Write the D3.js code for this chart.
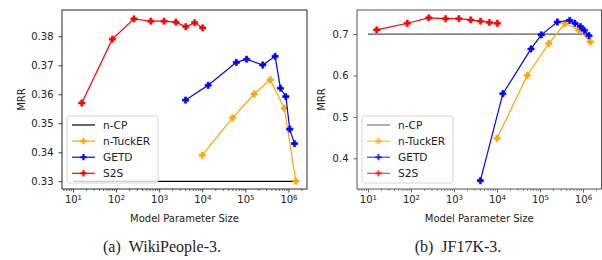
<!DOCTYPE html>
<html>
<head>
<meta charset="utf-8">
<script src="https://cdn.jsdelivr.net/npm/d3@7"></script>
<style>
body { margin: 0; background: #fff; }
svg text { font-family: "DejaVu Sans", sans-serif; }
</style>
</head>
<body>
<div id="chart"></div>
<script>
// model parameter sizes (x), shared by both datasets
var s2sSize = [16, 82, 260, 640, 1300, 2450, 4150, 6650, 10200];
var getdSize = [4100, 13700, 61700, 107000, 253000, 490000, 650000, 870000, 1070000, 1380000];
var tuckerSize = [10000, 50500, 160000, 380000, 800000, 1480000];
var cpSize = [10, 1480000];

// WikiPeople-3 MRR
var wikiS2S = [0.357, 0.379, 0.386, 0.3852, 0.3852, 0.3849, 0.3833, 0.3847, 0.3829];
var wikiGETD = [0.358, 0.3631, 0.371, 0.3721, 0.3701, 0.3731, 0.3621, 0.3592, 0.348, 0.343];
var wikiTucker = [0.339, 0.3519, 0.3601, 0.365, 0.3552, 0.3301];
var wikiCP = 0.33;
var wikiTicks = [0.33, 0.34, 0.35, 0.36, 0.37, 0.38];

// JF17K-3 MRR
var jfS2S = [0.710, 0.726, 0.739, 0.737, 0.737, 0.734, 0.731, 0.728, 0.726];
var jfGETD = [0.346, 0.556, 0.664, 0.698, 0.729, 0.733, 0.726, 0.718, 0.709, 0.696];
var jfTucker = [0.448, 0.600, 0.677, 0.726, 0.710, 0.681];
var jfCP = 0.70;
var jfTicks = [0.4, 0.5, 0.6, 0.7];

var xMajor = [10, 100, 1000, 10000, 100000, 1000000];
var legendNames = ["n-CP", "n-TuckER", "GETD", "S2S"];

var svg = d3.select("#chart")
  .append("svg")
  .attr("width", 602)
  .attr("height", 260);

function drawPanel(p) {
  var x = d3.scaleLog()
    .domain([Math.pow(10, 0.745), Math.pow(10, 6.43)])
    .range([p.left, p.right]);
  var y = d3.scaleLinear()
    .domain(p.yDomain)
    .range([p.bottom, p.top]);

  var g = svg.append("g");

  // minor ticks
  var minor = [];
  for (var e = 0; e <= 6; e++) {
    for (var m = 2; m <= 9; m++) {
      var v = m * Math.pow(10, e);
      if (v > x.domain()[0] && v < x.domain()[1]) minor.push(v);
    }
  }
  g.append("g")
    .attr("transform", "translate(0," + p.bottom + ")")
    .call(d3.axisBottom(x).tickValues(minor).tickSize(2).tickFormat(""))
    .call(function(a) { a.select(".domain").remove(); a.selectAll("line").attr("stroke", p.ink).attr("stroke-width", 0.6); });

  var xa = g.append("g")
    .attr("transform", "translate(0," + p.bottom + ")")
    .call(d3.axisBottom(x).tickValues(xMajor).tickSize(3.5).tickPadding(3.5).tickFormat(""));
  xa.select(".domain").remove();
  xa.selectAll("line").attr("stroke", p.ink).attr("stroke-width", 0.8);
  xa.selectAll(".tick text")
    .attr("font-size", 10)
    .attr("fill", "#222")
    .each(function(d) {
      var t = d3.select(this);
      t.append("tspan").text("10");
      t.append("tspan").text(Math.round(Math.log10(d))).attr("font-size", 7).attr("dy", "-0.45em");
    });

  var ya = g.append("g")
    .attr("transform", "translate(" + p.left + ",0)")
    .call(d3.axisLeft(y).tickValues(p.yTicks).tickSize(3.5).tickPadding(5).tickFormat(d3.format(p.yFmt)));
  ya.select(".domain").remove();
  ya.selectAll("line").attr("stroke", p.ink).attr("stroke-width", 0.8);
  ya.selectAll("text").attr("font-size", 10).attr("fill", "#222");

  // series
  var series = [
    { name: "n-TuckER", xs: tuckerSize, ys: p.tucker, color: "orange" },
    { name: "GETD", xs: getdSize, ys: p.getd, color: "blue" },
    { name: "S2S", xs: s2sSize, ys: p.s2s, color: "red" }
  ];
  var line = d3.line()
    .x(function(d) { return x(d[0]); })
    .y(function(d) { return y(d[1]); });

  g.append("path")
    .attr("d", line(cpSize.map(function(s) { return [s, p.cp]; })))
    .attr("fill", "none")
    .attr("stroke", p.cpColor)
    .attr("stroke-width", 1.2);

  var marker = d3.symbol(d3.symbolCross).size(22);
  series.forEach(function(s) {
    var pts = s.xs.map(function(v, i) { return [v, s.ys[i]]; });
    g.append("path")
      .attr("d", line(pts))
      .attr("fill", "none")
      .attr("stroke", s.color)
      .attr("stroke-width", 1.2);
    g.selectAll(null)
      .data(pts)
      .enter().append("path")
      .attr("d", marker)
      .attr("transform", function(d) { return "translate(" + x(d[0]) + "," + y(d[1]) + ")"; })
      .attr("fill", s.color)
      .attr("stroke", s.color)
      .attr("stroke-width", 0.6)
      .attr("stroke-linejoin", "round");
  });

  // frame
  g.append("rect")
    .attr("x", p.left).attr("y", p.top)
    .attr("width", p.right - p.left).attr("height", p.bottom - p.top)
    .attr("fill", "none").attr("stroke", p.ink).attr("stroke-width", 0.9);

  // legend
  var lg = g.append("g").attr("transform", "translate(" + (p.left + 5) + ",116)");
  lg.append("rect")
    .attr("width", 91).attr("height", 67).attr("rx", 2.5)
    .attr("fill", "#fff").attr("fill-opacity", 0.8)
    .attr("stroke", "#ccc").attr("stroke-width", 0.8);
  var colors = [p.cpColor, "orange", "blue", "red"];
  legendNames.forEach(function(n, i) {
    var ly = 9 + i * 16.1;
    lg.append("line")
      .attr("x1", 5).attr("x2", 28).attr("y1", ly).attr("y2", ly)
      .attr("stroke", colors[i]).attr("stroke-width", 1.2).attr("opacity", p.legAlpha);
    if (i > 0) {
      lg.append("path").attr("d", marker)
        .attr("transform", "translate(16.5," + ly + ")")
        .attr("fill", colors[i]).attr("opacity", p.legAlpha);
    }
    lg.append("text")
      .attr("x", 36).attr("y", ly).attr("dy", "0.35em")
      .attr("font-size", 10.6).attr("fill", "#222")
      .text(n);
  });

  // labels
  svg.append("text")
    .attr("transform", "translate(" + p.labelX + "," + ((p.top + p.bottom) / 2) + ") rotate(-90)")
    .attr("text-anchor", "middle").attr("dy", "0.35em")
    .attr("font-size", 10).attr("fill", "#222")
    .text("MRR");
  svg.append("text")
    .attr("x", (p.left + p.right) / 2).attr("y", 222)
    .attr("text-anchor", "middle")
    .attr("font-size", 10).attr("fill", "#222")
    .text("Model Parameter Size");
  svg.append("text")
    .attr("x", p.captionX).attr("y", 251.5)
    .attr("text-anchor", "middle")
    .style("font-family", "'Liberation Serif', serif")
    .attr("font-size", 16).attr("fill", "#222")
    .text(p.caption);
}

drawPanel({
  left: 62, right: 307, top: 10, bottom: 189,
  yDomain: [0.32734, 0.38907], yTicks: wikiTicks, yFmt: ".2f",
  s2s: wikiS2S, getd: wikiGETD, tucker: wikiTucker, cp: wikiCP,
  cpColor: "black", ink: "#111", legAlpha: 1,
  labelX: 21, captionX: 162, caption: "(a)\u00a0\u00a0WikiPeople-3."
});

drawPanel({
  left: 357, right: 601.5, top: 10, bottom: 189,
  yDomain: [0.3259, 0.758], yTicks: jfTicks, yFmt: ".1f",
  s2s: jfS2S, getd: jfGETD, tucker: jfTucker, cp: jfCP,
  cpColor: "#555", ink: "#444", legAlpha: 0.75,
  labelX: 321, captionX: 458, caption: "(b)\u00a0\u00a0JF17K-3."
});
</script>
</body>
</html>
